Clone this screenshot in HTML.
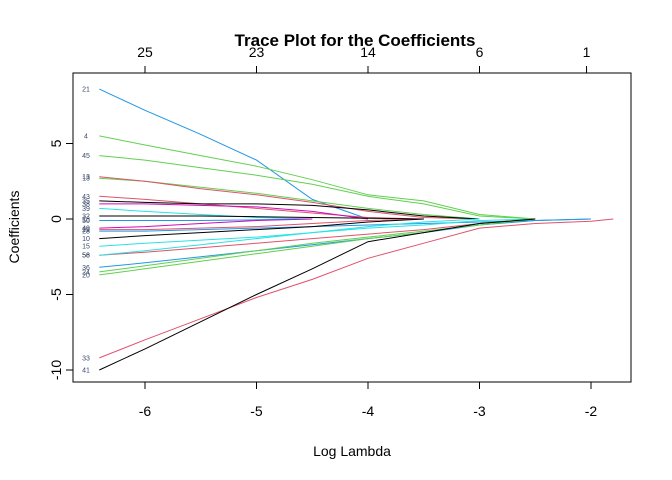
<!DOCTYPE html>
<html><head><meta charset="utf-8"><style>
body{margin:0;background:#fff;}
svg{display:block;font-family:"Liberation Sans",Arial,sans-serif;}
</style></head><body>
<svg id="chart" width="672" height="480">
<text x="355" y="46" text-anchor="middle" font-size="17" font-weight="bold">Trace Plot for the Coefficients</text>
<text x="352" y="456" text-anchor="middle" font-size="14">Log Lambda</text>
<text transform="translate(19,227) rotate(-90)" text-anchor="middle" font-size="14">Coefficients</text>
<rect x="73" y="73" width="558" height="309" fill="none" stroke="#000"/>
<g id="series"></g>
<g id="axes"></g>
</svg>
<script>
const lambdaGrid=[-6.41,-6,-5.5,-5,-4.5,-4,-3.5,-3,-2.5,-2,-1.8];
const xTicks=[-6,-5,-4,-3,-2];
const yTicks=[-10,-5,0,5];
const topTicks=[-6,-5,-4,-3,-2.04];
const topLabels=["25","23","14","6","1"];
const seriesLabels=["21","4","45","13","13","43","35","38","39","32","18","50","40","29","28","10","15","56","58","36","24","20","33","41"];
const seriesColors=["#2297E6","#61D04F","#61D04F","#61D04F","#DF536B","#DF536B","#000000","#CD0BBC","#28E2E5","#000000","#CD0BBC","#2297E6","#CD0BBC","#DF536B","#2297E6","#000000","#28E2E5","#DF536B","#28E2E5","#2297E6","#61D04F","#61D04F","#DF536B","#000000"];
const s21=[8.6,7.2,5.6,3.9,1.3,0,0,0,0,0,0];
const s4=[5.5,4.9,4.2,3.5,2.6,1.6,1.2,0.3,0,0,0];
const s45=[4.2,3.9,3.4,2.9,2.3,1.5,1.0,0.2,0,0,0];
const s13g=[2.7,2.5,2.1,1.7,1.2,0.7,0.3,0,0,0,0];
const s13r=[2.8,2.5,2.0,1.6,1.1,0.5,0.1,0,0,0,0];
const s43=[1.5,1.3,1.0,0.7,0.4,0.1,0,0,0,0,0];
const s35=[1.2,1.1,1.0,1.0,0.9,0.6,0.2,0,0,0,0];
const s38=[1.0,1.0,0.9,0.8,0.5,0,0,0,0,0,0];
const s39=[0.7,0.5,0.3,0.1,0,0,0,0,0,0,0];
const s32=[0.2,0.2,0.2,0.15,0.1,0.05,0,0,0,0,0];
const s18=[0,0,0,0,0,0,0,0,0,0,0];
const s50=[-0.1,-0.1,-0.1,-0.05,0,0,0,0,0,0,0];
const s40=[-0.6,-0.5,-0.3,-0.1,0,0,0,0,0,0,0];
const s29=[-0.7,-0.7,-0.6,-0.5,-0.3,-0.1,0,0,0,0,0];
const s28=[-0.8,-0.8,-0.7,-0.6,-0.5,-0.4,-0.3,-0.2,-0.1,0,0];
const s10=[-1.3,-1.1,-0.9,-0.7,-0.5,-0.2,0,0,0,0,0];
const s15=[-1.8,-1.6,-1.4,-1.2,-0.9,-0.6,-0.4,-0.1,0,0,0];
const s56=[-2.4,-2.2,-1.9,-1.6,-1.3,-1.0,-0.7,-0.3,0,0,0];
const s58=[-2.4,-2.1,-1.7,-1.3,-0.9,-0.5,-0.2,0,0,0,0];
const s36=[-3.2,-2.9,-2.5,-2.1,-1.7,-1.3,-0.9,-0.4,-0.1,0,0];
const s24=[-3.5,-3.1,-2.6,-2.1,-1.6,-1.2,-0.8,-0.4,0,0,0];
const s20=[-3.7,-3.3,-2.8,-2.3,-1.8,-1.3,-0.9,-0.3,0,0,0];
const s33=[-9.2,-8.0,-6.6,-5.2,-4.0,-2.6,-1.6,-0.6,-0.3,-0.15,0];
const s41=[-10,-8.6,-6.8,-5.0,-3.3,-1.5,-0.9,-0.3,0,0,0];
const seriesValues=[s21,s4,s45,s13g,s13r,s43,s35,s38,s39,s32,s18,s50,s40,s29,s28,s10,s15,s56,s58,s36,s24,s20,s33,s41];

const NS="http://www.w3.org/2000/svg";
function xs(v){return 145+(v+6)*111.5;}
function ys(v){return 219-v*15.1;}
const sg=document.getElementById('series');
const ag=document.getElementById('axes');
function mk(tag,attrs,parent){const e=document.createElementNS(NS,tag);for(const k in attrs)e.setAttribute(k,attrs[k]);parent.appendChild(e);return e;}

seriesValues.forEach((vals,i)=>{
  let last=vals.length-1;
  while(last>0&&vals[last]===0&&vals[last-1]===0)last--;
  const pts=[];
  for(let j=0;j<=last;j++)pts.push(xs(lambdaGrid[j]).toFixed(1)+','+ys(vals[j]).toFixed(1));
  const pl=mk('polyline',{points:pts.join(' '),fill:'none',stroke:seriesColors[i],'stroke-width':1},sg);
  
  
  const t=mk('text',{x:86,y:ys(vals[0])+2.5,'text-anchor':'middle','font-size':7,fill:'#3a4a6a'},sg);
  t.textContent=seriesLabels[i];
  
  
});

xTicks.forEach(v=>{
  const l=mk('line',{x1:xs(v),x2:xs(v),y1:382,y2:389,stroke:'#000'},ag);
  
  
  const t=mk('text',{x:xs(v),y:416,'text-anchor':'middle','font-size':14},ag);
  t.textContent=String(v);
  
  
});
yTicks.forEach(v=>{
  const l=mk('line',{x1:66,x2:73,y1:ys(v),y2:ys(v),stroke:'#000'},ag);
  
  
  const t=mk('text',{transform:'translate(61,'+ys(v)+') rotate(-90)','text-anchor':'middle','font-size':14},ag);
  t.textContent=String(v);
  
  
});
topTicks.forEach((v,i)=>{
  const l=mk('line',{x1:xs(v),x2:xs(v),y1:66,y2:73,stroke:'#000'},ag);
  
  
  const t=mk('text',{x:xs(v),y:57,'text-anchor':'middle','font-size':14},ag);
  t.textContent=topLabels[i];
  
  
});
</script>
</body></html>
